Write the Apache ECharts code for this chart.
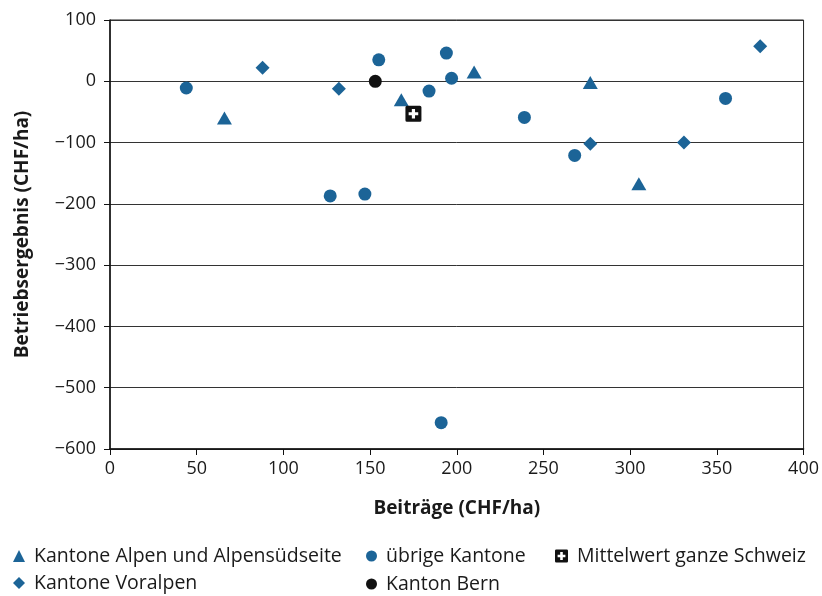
<!DOCTYPE html>
<html>
<head>
<meta charset="utf-8">
<script src="https://cdn.jsdelivr.net/npm/echarts@6/dist/echarts.min.js"></script>
<style>html,body{margin:0;padding:0;background:#fff}#c{width:822px;height:596px}</style>
</head>
<body>
<div id="c"></div>
<script>
// Data: [Beiträge CHF/ha, Betriebsergebnis CHF/ha]
var alpen = [[66,-60],[168,-30],[210,15],[277,-2],[305,-167]];
var voralpen = [[88,22],[132,-12],[277,-102],[331,-100],[375,57]];
var uebrige = [[44,-11],[127,-187],[147,-184],[155,35],[184,-16],[194,46],[197,5],[239,-59],[268,-121],[355,-28],[191,-557]];
var bern = [[153,0]];
var mittelwert = [[175,-53]];
var xTicks = {min:0, max:400, interval:50};
var yTicks = {min:-600, max:100, interval:100};
var names = ['Kantone Alpen und Alpensüdseite','Kantone Voralpen','übrige Kantone','Kanton Bern','Mittelwert ganze Schweiz'];

var BLUE = '#1c6497';
var FONT = 'Open Sans';
var swissPath = 'path://M2,0H18Q20,0 20,2V18Q20,20 18,20H2Q0,20 0,18V2Q0,0 2,0Z M8,4V8H4V12H8V16H12V12H16V8H12V4Z';

var chart = echarts.init(document.getElementById('c'), null, {renderer:'canvas'});
var legText = {fontFamily: FONT, fontSize: 19.5, color: '#1a1a1a', padding:[0,0,0,4]};
chart.setOption({
  animation: false,
  backgroundColor: '#fff',
  grid: {left:110, right:18, top:20, bottom:147, show:true, borderColor:'#222', borderWidth:1, backgroundColor:'transparent'},
  xAxis: {
    type:'value', min:xTicks.min, max:xTicks.max, interval:xTicks.interval,
    name:'Beiträge (CHF/ha)', nameLocation:'middle', nameGap:50,
    nameTextStyle:{fontFamily:FONT, fontSize:19, fontWeight:'bold', color:'#1a1a1a'},
    axisLine:{show:true, onZero:false, lineStyle:{color:'#111', width:1.5}},
    axisTick:{show:true, length:6, lineStyle:{color:'#111'}},
    axisLabel:{fontFamily:FONT, fontSize:18, color:'#1a1a1a', margin:11},
    splitLine:{show:false}
  },
  yAxis: {
    type:'value', min:yTicks.min, max:yTicks.max, interval:yTicks.interval,
    name:'Betriebsergebnis (CHF/ha)', nameLocation:'middle', nameGap:78,
    nameTextStyle:{fontFamily:FONT, fontSize:19, fontWeight:'bold', color:'#1a1a1a'},
    axisLine:{show:true, onZero:false, lineStyle:{color:'#111', width:1.5}},
    axisTick:{show:true, length:6, lineStyle:{color:'#111'}},
    axisLabel:{fontFamily:FONT, fontSize:18, color:'#1a1a1a', margin:14,
      formatter:function(v){return v<0 ? '\u2212'+Math.abs(v) : String(v);}},
    splitLine:{show:true, lineStyle:{color:'#333', width:1}}
  },
  legend: [
    {data:[{name:names[0], icon:'triangle'},{name:names[1], icon:'diamond'}], orient:'vertical', left:13, top:546,
     itemWidth:12, itemHeight:12, itemGap:7, textStyle:legText, padding:0},
    {data:[{name:names[2], icon:'circle'},{name:names[3], icon:'circle'}], orient:'vertical', left:366, top:546,
     itemWidth:11, itemHeight:11, itemGap:8, textStyle:legText, padding:0},
    {data:[{name:names[4], icon:swissPath}], orient:'vertical', left:555, top:546,
     itemWidth:13, itemHeight:13, itemGap:7, textStyle:legText, padding:0}
  ],
  series: [
    {name:names[0], type:'scatter', data:alpen, symbol:'triangle', symbolSize:[15,13], itemStyle:{color:BLUE, opacity:1}},
    {name:names[1], type:'scatter', data:voralpen, symbol:'diamond', symbolSize:[14,14], itemStyle:{color:BLUE, opacity:1}},
    {name:names[2], type:'scatter', data:uebrige, symbol:'circle', symbolSize:13, itemStyle:{color:BLUE, opacity:1}},
    {name:names[3], type:'scatter', data:bern, symbol:'circle', symbolSize:13, itemStyle:{color:'#111', opacity:1}},
    {name:names[4], type:'scatter', data:mittelwert, symbol:swissPath, symbolSize:16, itemStyle:{color:'#111', opacity:1}, z:5}
  ]
});
</script>
</body>
</html>
